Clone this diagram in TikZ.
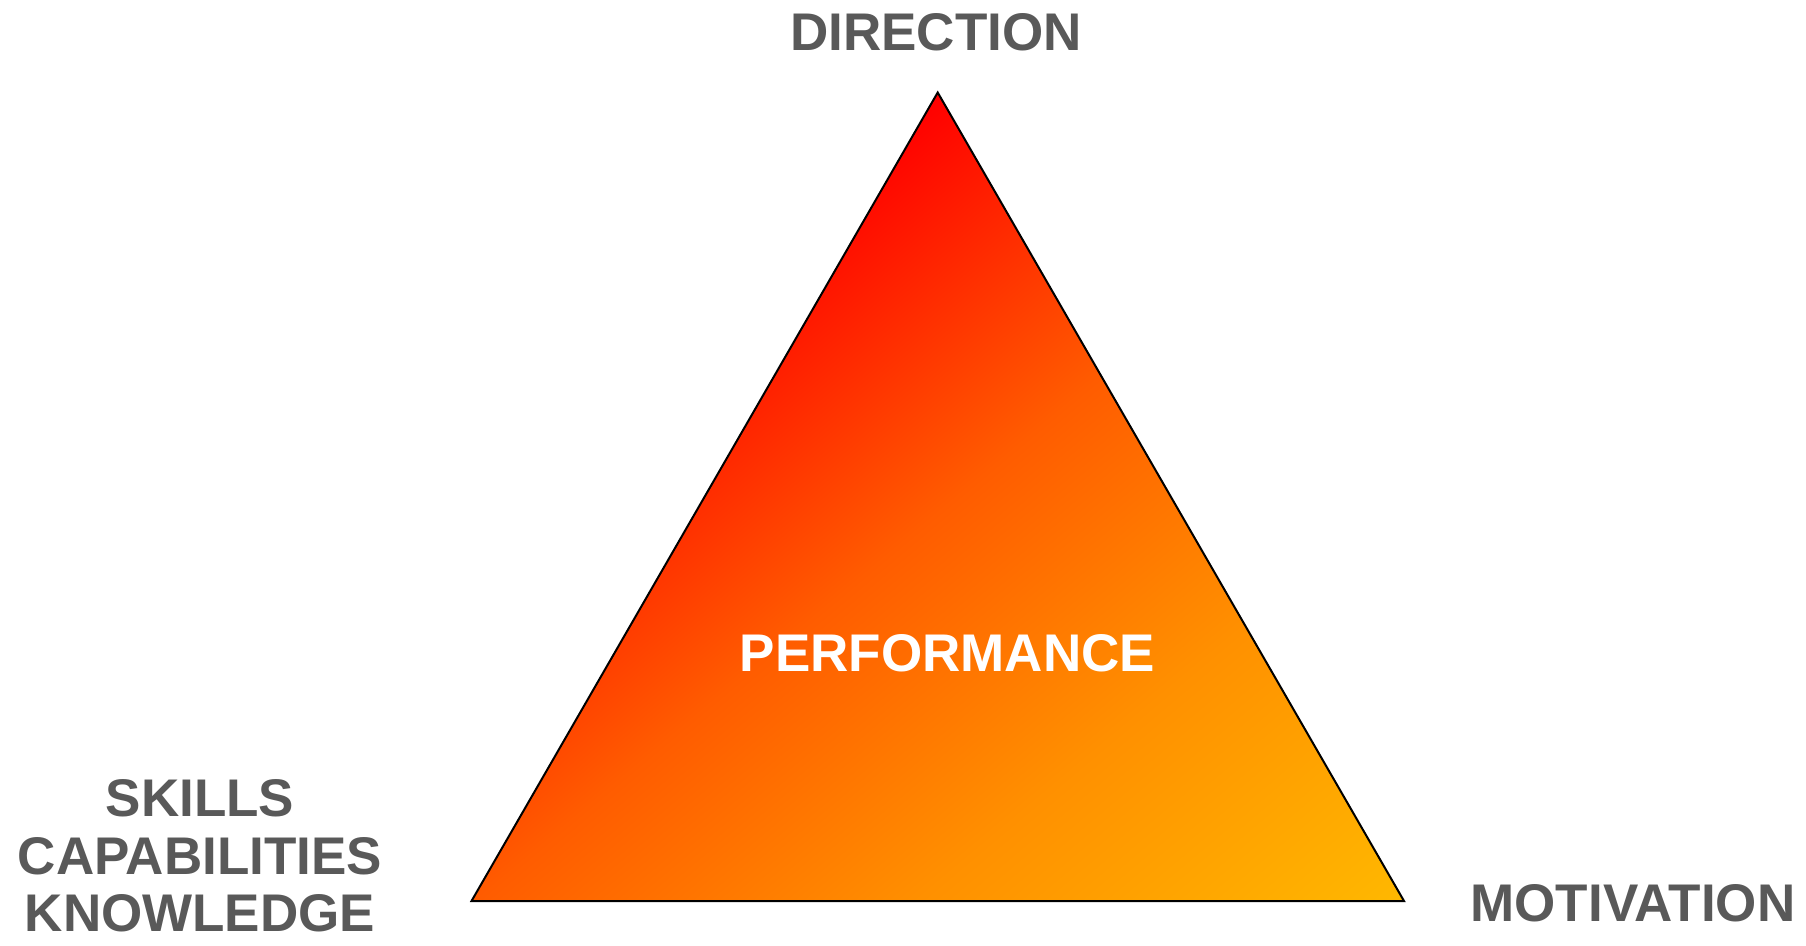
\documentclass[tikz,border=0pt]{standalone}
\usepackage{fontspec}
\setmainfont{Liberation Sans}
\definecolor{labelgray}{HTML}{595959}
\definecolor{gradA}{HTML}{FF0000}
\definecolor{gradB}{HTML}{FF5C00}
\definecolor{gradC}{HTML}{FF9000}
\definecolor{gradD}{HTML}{FFB800}
% red -> orange -> amber ramp, laid out on the usual 100bp shading square
\pgfdeclarehorizontalshading{perframp}{100bp}{%
  color(0bp)=(gradA); color(37.5bp)=(gradA); color(46.25bp)=(gradB);
  color(54bp)=(gradC); color(62.5bp)=(gradD); color(100bp)=(gradD)}
\begin{document}
\begin{tikzpicture}[x=1pt,y=-1pt,
  corner/.style={font=\fontsize{53}{57.5}\selectfont\bfseries, text=labelgray,
    align=center, inner sep=0pt, anchor=base},
  centre/.style={font=\fontsize{53}{57.5}\selectfont\bfseries, text=white,
    inner sep=0pt, anchor=base},
  edge/.style={draw=black, line width=2pt, line join=miter}]
\useasboundingbox (0,0) rectangle (1806,945);

\coordinate (apex) at (937.7,92.5);
\coordinate (left) at (471.5,901);
\coordinate (right) at (1404,901);

% diagonal gradient fill, clipped to the triangle
\begin{scope}
  \clip (apex) -- (left) -- (right) -- cycle;
  \shade[shading=perframp, shading angle=-50]
    (1034.1,611.6) ++(-919.1,-919.1) rectangle ++(1838.2,1838.2);
\end{scope}
\draw[edge] (apex) -- (left) -- (right) -- cycle;

\node[corner] (dir) at (936,50.5) {DIRECTION};
\node[corner] (mot) at (1633,921) {MOTIVATION};
% base anchor of a multi-line node sits on its last line
\node[corner] (skl) at (200,931.5) {SKILLS\\CAPABILITIES\\KNOWLEDGE};
\node[centre] (perf) at (947.5,671.5) {PERFORMANCE};
\end{tikzpicture}
\end{document}
